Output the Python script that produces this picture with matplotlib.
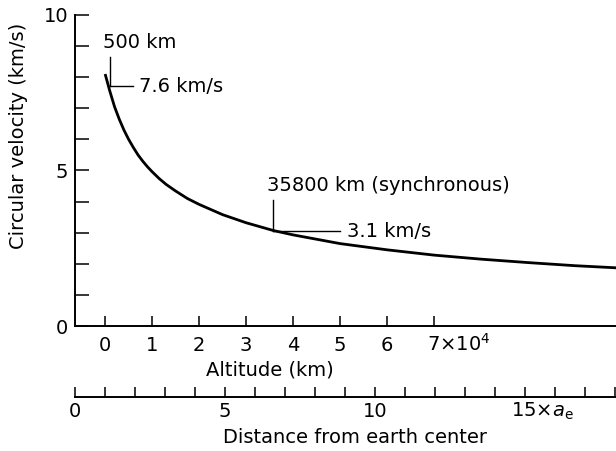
import numpy as np
import matplotlib
matplotlib.use('Agg')
import matplotlib.pyplot as plt

plt.rcParams['font.family'] = ['DejaVu Sans']

# altitude in units of 10^4 km, circular velocity in km/s
altitude = [0.0, 0.1, 0.2, 0.3, 0.4, 0.5, 0.6, 0.7, 0.8, 0.9, 1.0, 1.15, 1.3, 1.5,
            1.75, 2.0, 2.5, 3.0, 3.58, 4.0, 5.0, 6.0, 7.0, 8.0, 9.0, 10.0, 10.9]
velocity = [8.1, 7.55, 7.05, 6.65, 6.3, 6.0, 5.74, 5.5, 5.3, 5.12, 4.96, 4.74, 4.55, 4.34,
            4.1, 3.91, 3.58, 3.32, 3.07, 2.93, 2.65, 2.45, 2.28, 2.15, 2.04, 1.94, 1.87]

alt_ticks = [0, 1, 2, 3, 4, 5, 6, 7]
alt_labels = ['0', '1', '2', '3', '4', '5', '6', '']
earth_radius = 0.6378  # 10^4 km
dist_ticks = list(range(0, 19))

low_alt, low_v = 0.05, 7.6
sync_alt, sync_v = 3.58, 3.1

fig = plt.figure(figsize=(6.16, 4.51), dpi=100)
ax = fig.add_axes([0.122, 0.277, 0.878, 0.69])
xmax = 10.87
ax.set_xlim(-earth_radius, xmax)
ax.set_ylim(0, 10)
ax.plot(altitude, velocity, color='black', lw=2.0, solid_capstyle='butt')

for s in ['top', 'right']:
    ax.spines[s].set_visible(False)
for s in ['left', 'bottom']:
    ax.spines[s].set_linewidth(1.4)

fs = 14
ax.set_yticks(range(0, 11))
ax.set_yticklabels(['0', '', '', '', '', '5', '', '', '', '', '10'], fontsize=fs)
ax.tick_params(axis='y', direction='in', length=10, width=1.1, pad=5)
ax.set_xticks(alt_ticks)
ax.set_xticklabels(alt_labels, fontsize=fs)
ax.tick_params(axis='x', direction='in', length=7, width=1.1, pad=7)
ax.annotate('7×10$^4$', xy=(6.85, 0), xycoords=('data', 'axes fraction'),
            xytext=(0, -5), textcoords='offset points', fontsize=fs, ha='left', va='top')
ax.set_xlabel('Altitude (km)', fontsize=fs)
ax.xaxis.set_label_coords(0.36, -0.11)
ax.set_ylabel('Circular velocity (km/s)', fontsize=fs)
ax.yaxis.set_label_coords(-0.088, 0.61)

# annotations
ax.plot([0.1, 0.1], [7.7, 8.65], color='black', lw=1.0)
ax.plot([0.1, 0.6], [7.7, 7.7], color='black', lw=1.0)
ax.text(-0.05, 8.8, '500 km', fontsize=fs, ha='left', va='bottom')
ax.text(0.72, 7.7, '%.1f km/s' % low_v, fontsize=fs, ha='left', va='center')

ax.plot([sync_alt, sync_alt], [3.05, 4.05], color='black', lw=1.0)
ax.plot([sync_alt, 5.0], [3.05, 3.05], color='black', lw=1.0)
ax.text(3.45, 4.2, '35800 km (synchronous)', fontsize=fs, ha='left', va='bottom')
ax.text(5.15, 3.05, '%.1f km/s' % sync_v, fontsize=fs, ha='left', va='center')

# distance from earth center axis
ax2 = fig.add_axes([0.122, 0.12, 0.878, 0.0001])
ax2.set_xlim(0, (xmax + earth_radius) / earth_radius)
ax2.set_yticks([])
for s in ['top', 'right', 'left']:
    ax2.spines[s].set_visible(False)
ax2.spines['bottom'].set_linewidth(1.4)
ax2.set_xticks(dist_ticks)
ax2.set_xticklabels([str(d) if d in (0, 5, 10) else '' for d in dist_ticks], fontsize=fs)
ax2.tick_params(axis='x', direction='in', length=7, width=1.1, pad=4)
ax2.annotate('15×$a_\\mathrm{e}$', xy=(14.55, 0), xycoords=('data', 'axes fraction'),
             xytext=(0, -3), textcoords='offset points', fontsize=fs, ha='left', va='top')
fig.text(0.577, 0.03, 'Distance from earth center', fontsize=fs, ha='center', va='center')

fig.savefig('out.png', dpi=100)
